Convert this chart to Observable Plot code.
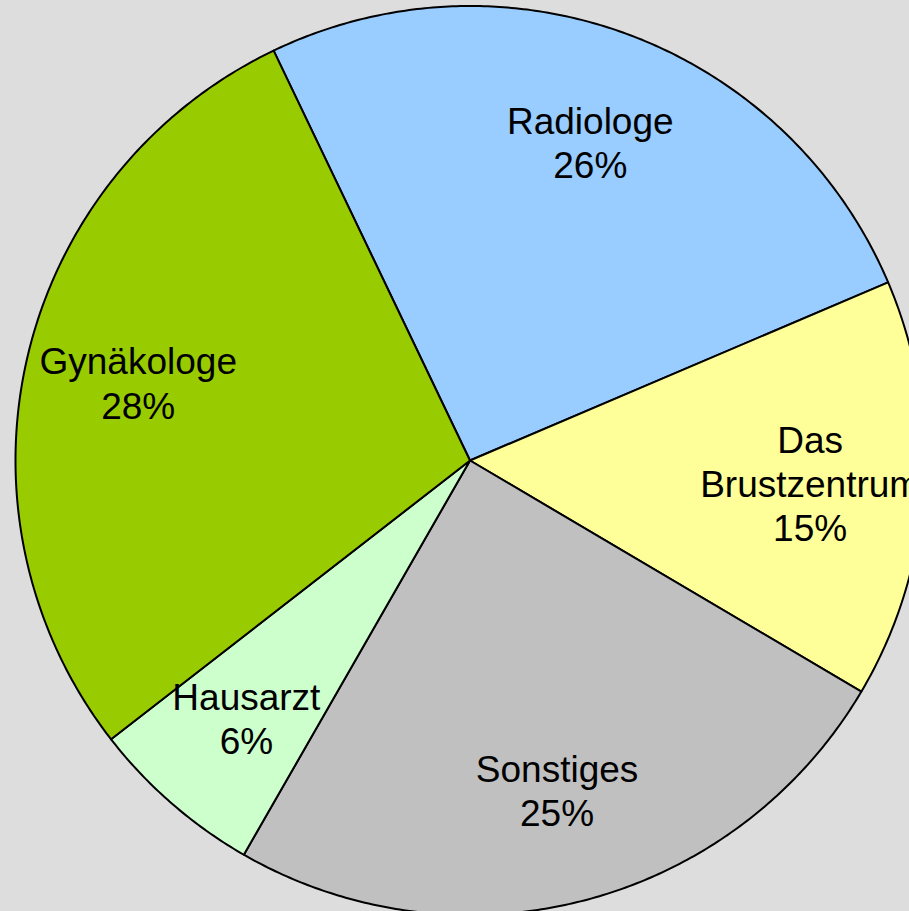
<!DOCTYPE html>
<html>
<head>
<meta charset="utf-8">
<script src="https://cdn.jsdelivr.net/npm/d3@7"></script>
<script src="https://cdn.jsdelivr.net/npm/@observablehq/plot@0.6"></script>
<style>
  html, body { margin: 0; padding: 0; background: #dddddd; overflow: hidden; }
</style>
</head>
<body>
<div id="chart"></div>
<script>
// Data (clockwise from the top-left boundary)
const categories = ["Radiologe", "Das\nBrustzentrum", "Sonstiges", "Hausarzt", "Gynäkologe"];
const values = [25.7, 14.9, 24.8, 6.2, 28.4];
const colors = ["#99ccff", "#ffff99", "#c0c0c0", "#ccffcc", "#99cc00"];
const startAngleDeg = -25.6;

const W = 909, H = 911;
const cx = 469.5, cy = 460, R = 454.5; // layout of the pie in the page
const labelRadius = 0.75;

const total = d3.sum(values);
const slices = [];
const labels = [];
let a0 = startAngleDeg * Math.PI / 180;
categories.forEach((name, i) => {
  const span = values[i] / total * 2 * Math.PI;
  const a1 = a0 + span;
  slices.push({name, x: 0, y: 0});
  const n = Math.max(2, Math.ceil(span / (Math.PI / 360)));
  for (let k = 0; k <= n; k++) {
    const a = a0 + span * k / n;
    slices.push({name, x: Math.sin(a), y: Math.cos(a)});
  }
  const am = (a0 + a1) / 2;
  labels.push({
    text: name + "\n" + Math.round(values[i] / total * 100) + "%",
    x: labelRadius * Math.sin(am),
    y: labelRadius * Math.cos(am)
  });
  a0 = a1;
});

const chart = Plot.plot({
  width: W,
  height: H,
  margin: 0,
  x: {domain: [-cx / R, (W - cx) / R], range: [0, W], axis: null},
  y: {domain: [-(H - cy) / R, cy / R], range: [H, 0], axis: null},
  color: {domain: categories, range: colors},
  style: {background: "#dddddd", overflow: "hidden", fontFamily: "'Liberation Sans', Arial, sans-serif"},
  marks: [
    Plot.line(slices, {
      x: "x", y: "y", z: "name", fill: "name",
      stroke: "black", strokeWidth: 2, strokeLinejoin: "round",
      curve: "linear-closed"
    }),
    Plot.text(labels, {
      x: "x", y: "y", text: "text",
      fontSize: 37, lineHeight: 1.2, fill: "black", textAnchor: "middle"
    })
  ]
});
document.getElementById("chart").appendChild(chart);
</script>
</body>
</html>
